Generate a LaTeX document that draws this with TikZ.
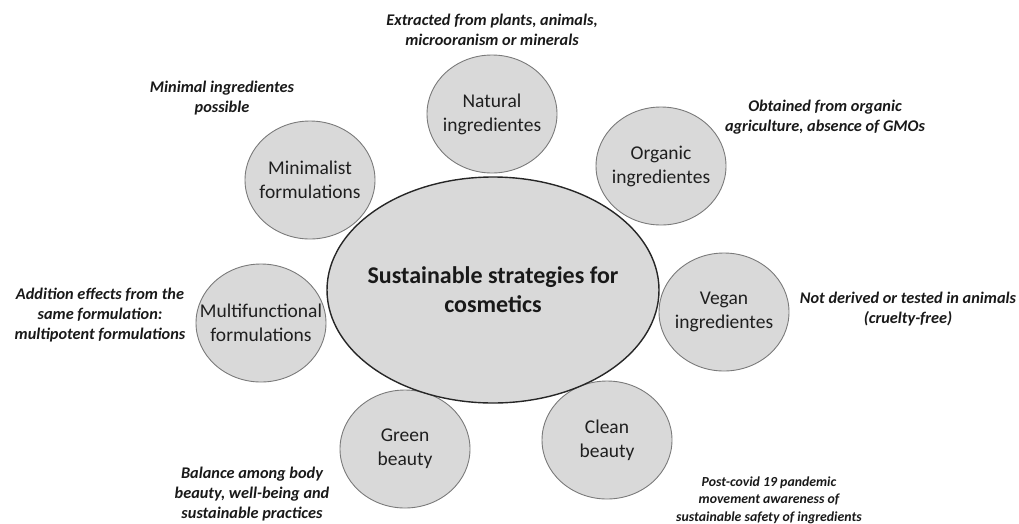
\documentclass[tikz,border=0pt]{standalone}
\usepackage{fontspec}
\setmainfont{Carlito}
\usetikzlibrary{shapes.geometric}

\definecolor{bubble}{HTML}{D9D9D9}
\definecolor{rim}{HTML}{7A7A7A}
\definecolor{ink}{HTML}{1F1F1F}

\begin{document}
\begin{tikzpicture}[x=1pt,y=-1pt]
	\tikzstyle{topic}=[ellipse,draw=rim,fill=bubble,line width=0.9pt,inner sep=0pt,minimum width=130pt,minimum height=118pt]
	\tikzstyle{topic text}=[align=center,inner sep=0pt,text=ink,font=\fontsize{19.5}{24}\selectfont]
	\tikzstyle{hub}=[ellipse,draw=black!85,fill=bubble,line width=1.4pt,inner sep=0pt,minimum width=332pt,minimum height=226pt]
	\tikzstyle{hub text}=[align=center,inner sep=0pt,text=black!90,font=\fontsize{24}{29}\selectfont\bfseries]
	\tikzstyle{annot}=[align=center,inner sep=0pt,text=black!90,font=\fontsize{16.3}{20}\selectfont\bfseries\itshape]
	
	\useasboundingbox (0,0) rectangle (1019,523);
	
	% strategies round the hub
	\node[topic, label={[topic text]center:{Natural\\ingredientes}}] 	(nat)	at (492,114)	{};
	\node[topic, label={[topic text]center:{Organic\\ingredientes}}] 	(org)	at (661,166)	{};
	\node[topic, label={[topic text]center:{Vegan\\ingredientes}}] 	(veg)	at (724,312)	{};
	\node[topic, label={[topic text]center:{Clean\\beauty}}] 	(cln)	at (607,440)	{};
	\node[topic, label={[topic text]center:{Green\\beauty}}] 	(grn)	at (405,449)	{};
	\node[topic, label={[topic text]center:{Multifunctional\\formulations}}] 	(mfn)	at (261,323)	{};
	\node[topic, label={[topic text]center:{Minimalist\\formulations}}] 	(min)	at (310,180)	{};
	
	\node[hub, label={[hub text]center:{Sustainable strategies for\\cosmetics}}] 	(hub)	at (493,290)	{};
	
	% notes
	\node[annot] 	(nat-note)	at (492,30)		{Extracted from plants, animals,\\microoranism or minerals};
	\node[annot] 	(org-note)	at (825,117)	{Obtained from organic\\agriculture, absence of GMOs};
	\node[annot] 	(veg-note)	at (908,309)	{Not derived or tested in animals\\(cruelty-free)};
	\node[annot, font=\fontsize{13.8}{17.5}\selectfont\bfseries\itshape] 	(cln-note)	at (769,500)	{Post-covid 19 pandemic\\movement awareness of\\sustainable safety of ingredients};
	\node[annot] 	(grn-note)	at (252,494)	{Balance among body\\beauty, well-being and\\sustainable practices};
	\node[annot] 	(mfn-note)	at (100,315)	{Addition effects from the\\same formulation:\\multipotent formulations};
	\node[annot] 	(min-note)	at (222,98)	{Minimal ingredientes\\possible};
\end{tikzpicture}
\end{document}
